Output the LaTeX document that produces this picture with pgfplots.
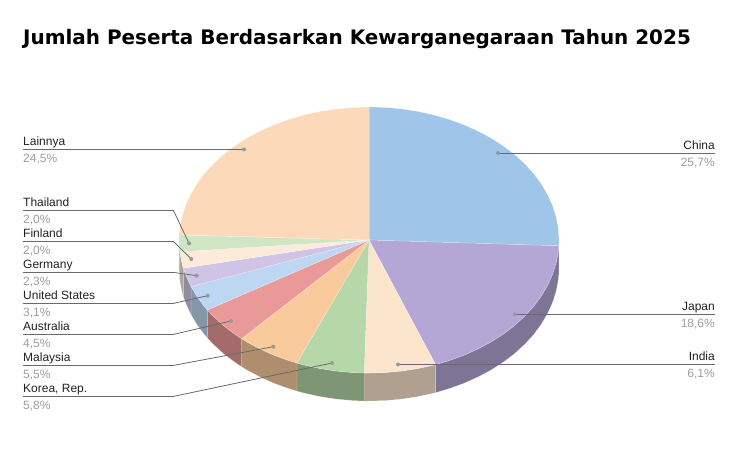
\documentclass[border=0pt]{standalone}
\usepackage{fontspec}
\setmainfont{Liberation Sans}
\newfontfamily\titlefont{DejaVu Sans}
\usepackage{pgfplots}
\pgfplotsset{compat=1.18}

% top faces
\definecolor{cChina}{HTML}{9FC5E8}
\definecolor{cJapan}{HTML}{B4A7D6}
\definecolor{cIndia}{HTML}{FCE5CD}
\definecolor{cKorea}{HTML}{B6D7A8}
\definecolor{cMalay}{HTML}{F9CB9C}
\definecolor{cAustr}{HTML}{EA9999}
\definecolor{cUS}{HTML}{BDD7F2}
\definecolor{cGerm}{HTML}{D0C4E6}
\definecolor{cFinl}{HTML}{FDEBDA}
\definecolor{cThai}{HTML}{CFE5C4}
\definecolor{cLain}{HTML}{FCDAB9}
% walls
\definecolor{wChina}{HTML}{6F8AA2}
\definecolor{wJapan}{HTML}{7E7596}
\definecolor{wIndia}{HTML}{B0A08F}
\definecolor{wKorea}{HTML}{7F9675}
\definecolor{wMalay}{HTML}{AE8E6D}
\definecolor{wAustr}{HTML}{A36B6B}
\definecolor{wUS}{HTML}{8497A9}
\definecolor{wGerm}{HTML}{928CA2}
\definecolor{wFinl}{HTML}{B1A498}
\definecolor{wThai}{HTML}{919F89}
\definecolor{leader}{HTML}{6A6A6A}
\definecolor{pct}{HTML}{9E9E9E}
\definecolor{dot}{HTML}{999999}

\pgfplotsset{
	top/.style={fill=#1, draw=white, draw opacity=0.35, line width=0.5bp},
	wall/.style={fill=#1, draw=white, draw opacity=0.25, line width=0.4bp},
	lead/.style={draw=leader, line width=0.8bp},
}
\newcommand{\lab}[5]{%
	\node[anchor=base #1, inner sep=0pt, text=black!87] at (axis cs:#2,#3-3.7) {#4};
	\node[anchor=base #1, inner sep=0pt, text=pct] at (axis cs:#2,#3+13.3) {#5};
}

\begin{document}
\begin{tikzpicture}
% hidden axis gives no bounding box of its own
\path[use as bounding box] (0,0) rectangle (738bp,467bp);
\begin{axis}[
	at={(0,0)}, anchor=south west,
	scale only axis,
	width=738bp, height=467bp,
	xmin=0, xmax=738,
	ymin=0, ymax=467,
	y dir=reverse,
	hide axis,
	clip=false,
	no markers,
	font=\fontsize{12bp}{14bp}\selectfont,
]

% side walls, back to front does not matter, they do not overlap
\addplot[wall=wChina] coordinates {(558.8,240.0) (558.6,245.8) (558.6,273.8) (558.8,268.0)} --cycle;
\addplot[wall=wJapan] coordinates {(558.8,245.8) (558.3,251.6) (556.1,263.1) (552.5,274.4) (547.5,285.5) (541.2,296.2) (533.6,306.5) (524.6,316.3) (514.6,325.5) (503.4,334.0) (491.1,341.9) (478.0,348.9) (464.0,355.2) (449.3,360.5) (435.6,364.6)
	(435.6,392.6) (449.3,388.5) (464.0,383.2) (478.0,376.9) (491.1,369.9) (503.4,362.0) (514.6,353.5) (524.6,344.3) (533.6,334.5) (541.2,324.2) (547.5,313.5) (552.5,302.4) (556.1,291.1) (558.3,279.6) (558.8,273.8)} --cycle;
\addplot[wall=wIndia] coordinates {(435.6,364.6) (434.0,365.0) (418.2,368.5) (402.0,371.0) (385.6,372.5) (369.0,373.0) (364.2,373.0)
	(364.2,401.0) (369.0,401.0) (385.6,400.5) (402.0,399.0) (418.2,396.5) (434.0,393.0) (435.6,392.6)} --cycle;
\addplot[wall=wKorea] coordinates {(364.2,373.0) (352.4,372.5) (336.0,371.0) (319.8,368.5) (304.0,365.0) (296.8,363.0)
	(296.8,391.0) (304.0,393.0) (319.8,396.5) (336.0,399.0) (352.4,400.5) (364.2,401.0)} --cycle;
\addplot[wall=wMalay] coordinates {(296.8,363.0) (288.7,360.5) (274.0,355.2) (260.0,348.9) (246.9,341.9) (241.6,338.7)
	(241.6,366.7) (246.9,369.9) (260.0,376.9) (274.0,383.2) (288.7,388.5) (296.8,391.0)} --cycle;
\addplot[wall=wAustr] coordinates {(241.6,338.7) (234.6,334.0) (223.4,325.5) (213.4,316.3) (207.3,309.9)
	(207.3,337.9) (213.4,344.3) (223.4,353.5) (234.6,362.0) (241.6,366.7)} --cycle;
\addplot[wall=wUS] coordinates {(207.3,309.9) (204.4,306.5) (196.8,296.2) (191.1,286.6)
	(191.1,314.6) (196.8,324.2) (204.4,334.5) (207.3,337.9)} --cycle;
\addplot[wall=wGerm] coordinates {(191.1,286.6) (190.5,285.5) (185.5,274.4) (183.3,268.2)
	(183.3,296.2) (185.5,302.4) (190.5,313.5) (191.1,314.6)} --cycle;
\addplot[wall=wFinl] coordinates {(183.3,268.2) (181.9,263.1) (179.7,251.7)
	(179.7,279.7) (181.9,291.1) (183.3,296.2)} --cycle;
\addplot[wall=wThai] coordinates {(179.7,251.7) (179.0,240.0) (179.0,268.0) (179.7,279.7)} --cycle;

% top faces
\addplot[top=cChina] coordinates {(369,240) (369.0,107.0) (385.6,107.5) (402.0,109.0) (418.2,111.5) (434.0,115.0) (449.3,119.5) (464.0,124.8) (478.0,131.1) (491.1,138.1) (503.4,146.0) (514.6,154.5) (524.6,163.7) (533.6,173.5) (541.2,183.8) (547.5,194.5) (552.5,205.6) (556.1,216.9) (558.3,228.4) (559.0,240.0) (558.8,245.8)} --cycle;
\addplot[top=cJapan] coordinates {(369,240) (558.8,245.8) (558.3,251.6) (556.1,263.1) (552.5,274.4) (547.5,285.5) (541.2,296.2) (533.6,306.5) (524.6,316.3) (514.6,325.5) (503.4,334.0) (491.1,341.9) (478.0,348.9) (464.0,355.2) (449.3,360.5) (435.6,364.6)} --cycle;
\addplot[top=cIndia] coordinates {(369,240) (435.6,364.6) (434.0,365.0) (418.2,368.5) (402.0,371.0) (385.6,372.5) (369.0,373.0) (364.2,373.0)} --cycle;
\addplot[top=cKorea] coordinates {(369,240) (364.2,373.0) (352.4,372.5) (336.0,371.0) (319.8,368.5) (304.0,365.0) (296.8,363.0)} --cycle;
\addplot[top=cMalay] coordinates {(369,240) (296.8,363.0) (288.7,360.5) (274.0,355.2) (260.0,348.9) (246.9,341.9) (241.6,338.7)} --cycle;
\addplot[top=cAustr] coordinates {(369,240) (241.6,338.7) (234.6,334.0) (223.4,325.5) (213.4,316.3) (207.3,309.9)} --cycle;
\addplot[top=cUS] coordinates {(369,240) (207.3,309.9) (204.4,306.5) (196.8,296.2) (191.1,286.6)} --cycle;
\addplot[top=cGerm] coordinates {(369,240) (191.1,286.6) (190.5,285.5) (185.5,274.4) (183.3,268.2)} --cycle;
\addplot[top=cFinl] coordinates {(369,240) (183.3,268.2) (181.9,263.1) (179.7,251.7)} --cycle;
\addplot[top=cThai] coordinates {(369,240) (179.7,251.7) (179.0,240.0) (179.1,235.0)} --cycle;
\addplot[top=cLain] coordinates {(369,240) (179.1,235.0) (179.7,228.4) (181.9,216.9) (185.5,205.6) (190.5,194.5) (196.8,183.8) (204.4,173.5) (213.4,163.7) (223.4,154.5) (234.6,146.0) (246.9,138.1) (260.0,131.1) (274.0,124.8) (288.7,119.5) (304.0,115.0) (319.8,111.5) (336.0,109.0) (352.4,107.5) (369.0,107.0)} --cycle;

% leader lines
\addplot[lead] coordinates {(23,149.4) (244,149.4)};
\addplot[lead] coordinates {(23,210.4) (173.4,210.4) (189,243.3)};
\addplot[lead] coordinates {(23,241.4) (173.4,241.4) (191.3,259)};
\addplot[lead] coordinates {(23,272.4) (173.4,272.4) (196.7,275.7)};
\addplot[lead] coordinates {(23,303.4) (173.4,303.4) (207.7,295.7)};
\addplot[lead] coordinates {(23,334.4) (173.4,334.4) (231,321)};
\addplot[lead] coordinates {(23,365.4) (173.4,365.4) (273.3,346.7)};
\addplot[lead] coordinates {(23,396.4) (173.4,396.4) (332,363)};
\addplot[lead] coordinates {(715,153) (498,153)};
\addplot[lead] coordinates {(715,314.4) (514.7,314.4)};
\addplot[lead] coordinates {(715,364.4) (398,364.4)};

% leader dots
\addplot[only marks, mark=*, mark size=2bp, color=dot, mark options={fill=dot, draw opacity=0}] coordinates {
	(244,149.4) (189,243.3) (191.3,259) (196.7,275.7) (207.7,295.7) (231,321) (273.3,346.7) (332,363)
	(498,153) (514.7,314.4) (398,364.4)};

\lab{west}{23}{149.4}{Lainnya}{24,5\%}
\lab{west}{23}{210.4}{Thailand}{2,0\%}
\lab{west}{23}{241.4}{Finland}{2,0\%}
\lab{west}{23}{272.4}{Germany}{2,3\%}
\lab{west}{23}{303.4}{United States}{3,1\%}
\lab{west}{23}{334.4}{Australia}{4,5\%}
\lab{west}{23}{365.4}{Malaysia}{5,5\%}
\lab{west}{23}{396.4}{Korea, Rep.}{5,8\%}
\lab{east}{715}{153}{China}{25,7\%}
\lab{east}{715}{314.4}{Japan}{18,6\%}
\lab{east}{715}{364.4}{India}{6,1\%}

\node[anchor=base west, inner sep=0pt, font=\titlefont\bfseries\fontsize{19.95bp}{24bp}\selectfont] at (axis cs:23,44.8) {Jumlah Peserta Berdasarkan Kewarganegaraan Tahun 2025};
\end{axis}
\end{tikzpicture}
\end{document}
